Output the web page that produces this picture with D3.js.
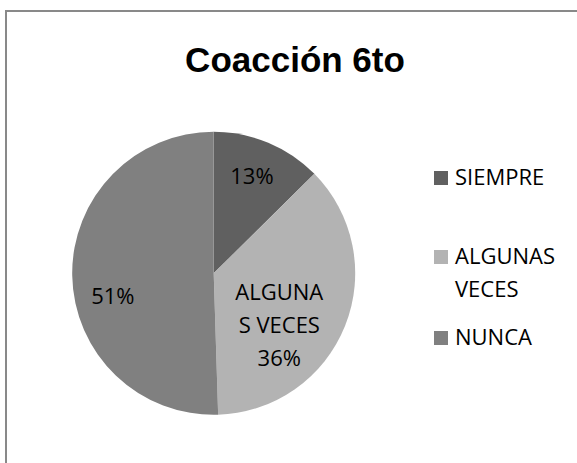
<!DOCTYPE html>
<html>
<head>
<meta charset="utf-8">
<script src="https://cdn.jsdelivr.net/npm/d3@7"></script>
<style>
  body { margin: 0; background: #fff; }
  svg { display: block; }
</style>
</head>
<body>
<div id="chart"></div>
<script>
var categories = ["SIEMPRE", "ALGUNAS VECES", "NUNCA"]
var values = [12.6, 36.9, 50.5]
var pieLabels = [["13%"], ["ALGUNA", "S VECES", "36%"], ["51%"]]
var legendLines = [["SIEMPRE"], ["ALGUNAS", "VECES"], ["NUNCA"]]
var colors = ["#606060", "#b3b3b3", "#808080"]

var width = 577
var height = 463
var svg = d3.select("#chart").append("svg")
  .attr("width", width)
  .attr("height", height)

// frame of the chart area (runs past the right and bottom edge)
svg.append("rect")
  .attr("x", 6).attr("y", 11)
  .attr("width", 578).attr("height", 462)
  .attr("fill", "#fff")
  .attr("stroke", "#898989")
  .attr("stroke-width", 2)

svg.append("text")
  .attr("x", 295).attr("y", 72)
  .attr("text-anchor", "middle")
  .attr("font-family", "Liberation Sans, Arial, sans-serif")
  .attr("font-weight", "bold")
  .attr("font-size", 35)
  .text("Coacción 6to")

var cx = 213.7, cy = 273.3, R = 141.5
var g = svg.append("g").attr("transform", "translate(" + cx + "," + cy + ")")

var pie = d3.pie().sort(null).value(function(d){ return d })
var arcs = pie(values)
var arc = d3.arc().innerRadius(0).outerRadius(R)
var labelArc = d3.arc().innerRadius(R * 0.72).outerRadius(R * 0.72)

g.selectAll("path.slice")
  .data(arcs).enter()
  .append("path")
    .classed("slice", true)
    .attr("d", arc)
    .attr("fill", function(d, i){ return colors[i] })

// excel pushes some labels off the centroid
var labelNudge = [[-1, -3], [-29, 14], [1, 21]]
var lineH = 33
var font = "Open Sans, Noto Sans, sans-serif"

arcs.forEach(function(a, i){
  var c = labelArc.centroid(a)
  var lines = pieLabels[i]
  var x = c[0] + labelNudge[i][0]
  var y = c[1] + labelNudge[i][1] - (lines.length - 1) * lineH / 2
  var t = g.append("text")
    .attr("text-anchor", "middle")
    .attr("font-family", font)
    .attr("font-size", 22)
    .attr("fill", "#000")
  lines.forEach(function(s, k){
    t.append("tspan")
      .attr("x", x)
      .attr("y", y + k * lineH)
      .attr("dy", "0.35em")
      .text(s)
  })
})

// legend
var legendBase = [185, 264, 345]
var leg = svg.append("g")
categories.forEach(function(c, i){
  leg.append("rect")
    .attr("x", 434).attr("y", legendBase[i] - 14)
    .attr("width", 14).attr("height", 14)
    .attr("fill", colors[i])
  var t = leg.append("text")
    .attr("font-family", font)
    .attr("font-size", 22)
    .attr("fill", "#000")
  legendLines[i].forEach(function(s, k){
    t.append("tspan")
      .attr("x", 455)
      .attr("y", legendBase[i] + k * lineH)
      .text(s)
  })
})
</script>
</body>
</html>
